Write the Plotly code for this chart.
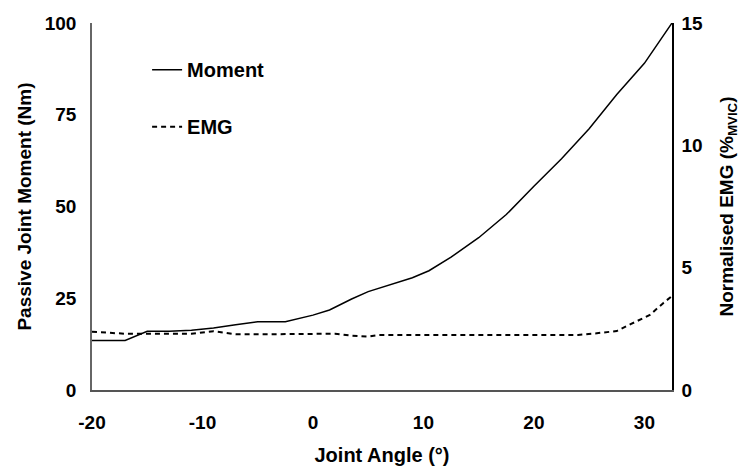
import plotly.graph_objects as go

# joint angle (deg) and passive moment (Nm)
angle_moment = [-20, -17, -15, -13, -11, -9, -7, -5, -2.5, 0, 1.5, 3.5, 5, 7, 9,
                10.5, 12.5, 15, 17.5, 20, 22.5, 25, 27.5, 30, 32.5]
moment = [13.5, 13.5, 16, 16, 16.3, 16.9, 17.8, 18.6, 18.6, 20.4, 21.8, 24.8, 26.8,
          28.7, 30.6, 32.5, 36.2, 41.5, 47.8, 55.5, 63, 71.2, 80.5, 89, 100]

# joint angle (deg) and normalised EMG (%MVIC)
angle_emg = [-20, -17, -14, -11, -9, -7, -4, -1, 2, 3.5, 5, 6, 10, 15, 20, 24,
             25.7, 27.5, 28.8, 30.5, 31.7, 32.5]
emg = [2.38, 2.3, 2.3, 2.3, 2.4, 2.28, 2.28, 2.28, 2.3, 2.22, 2.18, 2.25, 2.25,
       2.27, 2.25, 2.25, 2.32, 2.41, 2.7, 3.07, 3.55, 3.84]

x_ticks = [-20, -10, 0, 10, 20, 30]
x_ticklabels = ["-20", "-10", "0", "10", "20", "30"]
moment_ticks = [0, 25, 50, 75, 100]
emg_ticks = [0, 5, 10, 15]

bold = dict(family="Liberation Sans, Arial, sans-serif", size=19, color="black", weight="bold")
bold_big = dict(bold, size=20)

fig = go.Figure()
fig.add_trace(go.Scatter(x=angle_moment, y=moment, name="Moment", mode="lines",
                         line=dict(color="black", width=1.5), legendgroup="a"))
fig.add_trace(go.Scatter(x=angle_emg, y=emg, name="EMG", mode="lines", yaxis="y2",
                         line=dict(color="black", width=2, dash="5px,4px"), legendgroup="b"))

fig.update_layout(
    width=741, height=468,
    margin=dict(l=92, r=69, t=23, b=78),
    plot_bgcolor="white", paper_bgcolor="white",
    font=bold,
    xaxis=dict(
        range=[-20, 32.5], tickvals=x_ticks, ticktext=x_ticklabels,
        showgrid=False, zeroline=False, showline=True, linecolor="#555", linewidth=1.5,
        ticks="", tickfont=bold, ticklabelstandoff=14, automargin=False,
        title=dict(text="Joint Angle (°)", font=bold_big, standoff=16),
    ),
    yaxis=dict(
        range=[0, 100], tickvals=moment_ticks,
        showgrid=False, zeroline=False, showline=True, linecolor="#666", linewidth=1.5,
        ticks="", tickfont=bold, ticklabelstandoff=10, automargin=False,
        title=dict(text="Passive Joint Moment (Nm)", font=bold, standoff=8),
    ),
    yaxis2=dict(
        range=[0, 15], tickvals=emg_ticks, overlaying="y", side="right",
        showgrid=False, zeroline=False, showline=True, linecolor="black", linewidth=1.5,
        ticks="", tickfont=bold, ticklabelstandoff=4, automargin=False,
        title=dict(text="Normalised EMG (%<sub>MVIC</sub>)", font=bold, standoff=18),
    ),
    legend=dict(x=0.095, y=0.926, xanchor="left", yanchor="top",
                bgcolor="rgba(0,0,0,0)", font=bold_big,
                traceorder="grouped", tracegroupgap=28),
    showlegend=True,
)

fig.write_html("out.html", config={"displayModeBar": False},
               post_script="document.body.style.margin='0px';")
